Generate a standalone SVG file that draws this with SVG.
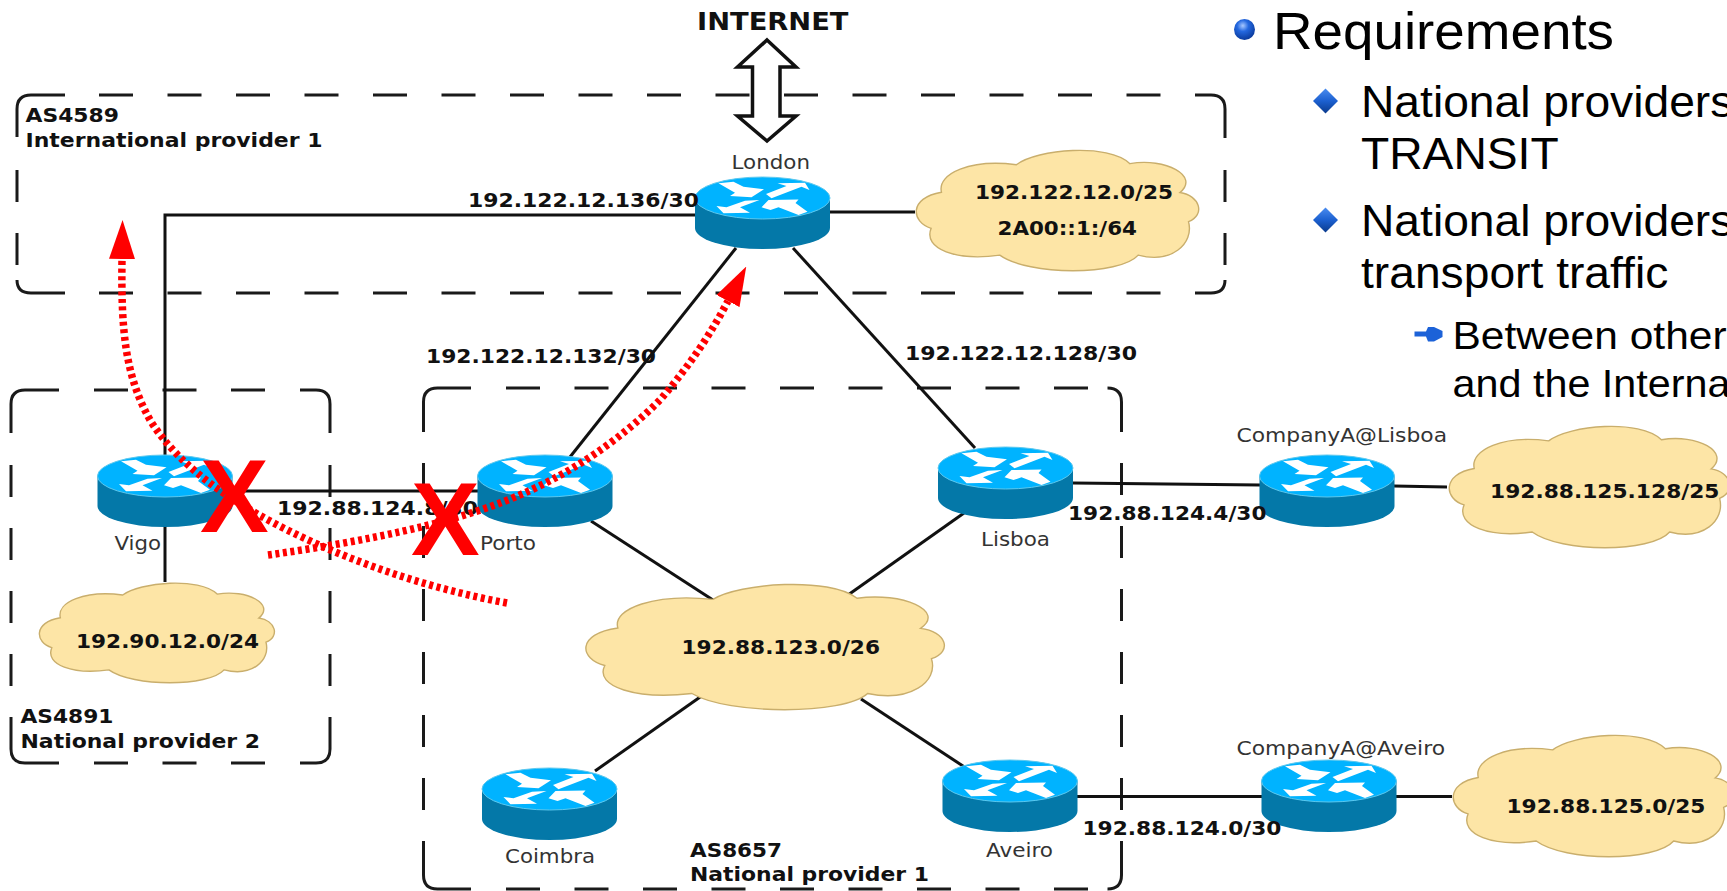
<svg xmlns="http://www.w3.org/2000/svg" xmlns:xlink="http://www.w3.org/1999/xlink" width="1727" height="891" viewBox="0 0 1727 891">
<style>
.box{fill:none;stroke:#1a1a1a;stroke-width:3}
.dh{stroke-dasharray:34 34.5}
.dv{stroke-dasharray:32 31}
.ln{fill:none;stroke:#111;stroke-width:3}
.cl{fill:#fde5a6;stroke:#c9ae6c;stroke-width:1.4;vector-effect:non-scaling-stroke}
text{font-family:"DejaVu Sans",sans-serif}
.b{font-weight:bold;font-size:19.5px;fill:#111}
.n{font-size:19.5px;fill:#333}
.s{font-family:"Liberation Sans",Arial,sans-serif;fill:#000}
.x{font-family:"Liberation Sans",Arial,sans-serif;font-weight:bold;font-size:103px;fill:#f00}
.red{fill:none;stroke:#f00;stroke-width:7.5;stroke-dasharray:4 3.6;marker-end:url(#ah)}
</style>
<defs>
<marker id="ah" markerUnits="userSpaceOnUse" viewBox="0 0 39 26" refX="0" refY="13" markerWidth="39" markerHeight="26" orient="auto"><path d="M0,0L39,13L0,26Z" fill="#f00"/></marker>
<radialGradient id="ball" cx=".42" cy=".32" r=".68"><stop offset="0" stop-color="#a8c8ff"/><stop offset=".4" stop-color="#2468e0"/><stop offset="1" stop-color="#0a3a9c"/></radialGradient>
<linearGradient id="dia" x1="0" y1="0" x2="0" y2="1"><stop offset="0" stop-color="#4a8cf0"/><stop offset=".5" stop-color="#1c60d0"/><stop offset="1" stop-color="#0a3a8c"/></linearGradient>
<path id="cloud" class="cl" d="M9.6,35.400C8,20 20,8 35.800,12.900C43,0 68,-5 75.500,12C88,7 100,22 93,35.700C100,38 102,54 96,59.600C98,78 90,94 78.400,87C72,104 40,104 30,87C15,92 3,82 6,65C-1,60 -2,40 9.600,35.400Z"/>
<g id="router">
<path d="M-67.500,21V51A67.500,21 0 0 0 67.500,51V21Z" fill="#0478a8"/>
<ellipse cx="0" cy="21" rx="67.500" ry="21" fill="#00b3ff" stroke="#5cc8ee" stroke-width="1"/>
<path fill="#fff" d="M-44,6.300L-29,4.700L-19,9.700L1.500,12.300L-11,20.300L-32.500,19L-27.500,15.700ZM3.500,17L24,9L15,6.300L42.500,5.700L47,13L39,9.700L9,21.300ZM-3,23L-22.500,30.300L-12.500,35.700L-39,36.300L-46,29L-36,30.300L-17.500,23.700ZM-1,30.300L6,23L36,22.500L33,26L45,34.700L36,38L16,30.300L8,33Z"/>
</g>
</defs>
<rect width="1727" height="891" fill="#fff"/>

<g id="as4589">
<path class="box" d="M17,137V109Q17,95 31,95H65M1195,95H1211Q1225,95 1225,109V138M1225,280Q1225,293 1211,293H1195M17,280Q17,293 31,293H65"/>
<path class="box dh" d="M99,95H1161M99,293H1161"/>
<path class="box dv" d="M17,170V265M1225,170V265"/>
<text class="b" x="25.500" y="121.500" textLength="93.500" lengthAdjust="spacingAndGlyphs">AS4589</text>
<text class="b" x="25.500" y="146.500" textLength="297" lengthAdjust="spacingAndGlyphs">International provider 1</text>
</g>
<g id="as4891">
<path class="box" d="M11,433V404Q11,390 25,390H59M300,390H316Q330,390 330,404V433M11,717V749Q11,763 25,763H59M330,717V749Q330,763 316,763H300"/>
<path class="box dh" d="M94,390H265M94,763H265"/>
<path class="box dv" d="M11,465V686M330,465V686"/>
<text class="b" x="20.500" y="723" textLength="93" lengthAdjust="spacingAndGlyphs">AS4891</text>
<text class="b" x="20.500" y="748" textLength="239.500" lengthAdjust="spacingAndGlyphs">National provider 2</text>
</g>
<g id="as8657">
<path class="box" d="M423.500,432V402Q423.500,388 437.500,388H471M1107.500,388Q1121.500,388 1121.500,402V432M423.500,841V875Q423.500,889 437.500,889H471M1121.500,841V875Q1121.500,889 1107.500,889"/>
<path class="box dh" d="M506,388H1088M506,889H1088"/>
<path class="box dv" d="M423.500,463V810M1121.500,463V810"/>
<text class="b" x="690" y="857" textLength="92" lengthAdjust="spacingAndGlyphs">AS8657</text>
<text class="b" x="690" y="881" textLength="239" lengthAdjust="spacingAndGlyphs">National provider 1</text>
</g>

<g id="connectors">
<path class="ln" d="M165,455V215H695"/>
<path class="ln" d="M232,491H478"/>
<path class="ln" d="M165,527V582"/>
<path class="ln" d="M830,212H915"/>
<path class="ln" d="M570,457L736,248"/>
<path class="ln" d="M793,248L975,448"/>
<path class="ln" d="M591,521L713,600"/>
<path class="ln" d="M964,513L848,595"/>
<path class="ln" d="M595,771L703,695"/>
<path class="ln" d="M966,768L861,699"/>
<path class="ln" d="M1073,483L1260,485"/>
<path class="ln" d="M1394,486L1447,487"/>
<path class="ln" d="M1077,796.500H1262"/>
<path class="ln" d="M1395,796.500H1452"/>
</g>

<g id="internet">
<path d="M767,40L796,67H780V116H796L767,141L737.500,116H752.500V67H737.500Z" fill="#fff" stroke="#111" stroke-width="3.500"/>
<text class="b" x="697" y="30" style="font-size:24.500px" textLength="151.500" lengthAdjust="spacingAndGlyphs">INTERNET</text>
</g>

<g id="cloud-london"><use href="#cloud" transform="translate(914,149) scale(2.86,1.22)"/>
<text class="b" x="975" y="199" textLength="198" lengthAdjust="spacingAndGlyphs">192.122.12.0/25</text>
<text class="b" x="997.500" y="235" textLength="139.500" lengthAdjust="spacingAndGlyphs">2A00::1:/64</text></g>
<g id="cloud-vigo"><use href="#cloud" transform="translate(37.500,582) scale(2.38,1.01)"/>
<text class="b" x="76" y="647.500" textLength="183" lengthAdjust="spacingAndGlyphs">192.90.12.0/24</text></g>
<g id="cloud-core"><use href="#cloud" transform="translate(583,583) scale(3.63,1.27)"/>
<text class="b" x="681.500" y="654" textLength="198.500" lengthAdjust="spacingAndGlyphs">192.88.123.0/26</text></g>
<g id="cloud-lisboa"><use href="#cloud" transform="translate(1447,425) scale(2.84,1.23)"/>
<text class="b" x="1490" y="498" textLength="229.500" lengthAdjust="spacingAndGlyphs">192.88.125.128/25</text></g>
<g id="cloud-aveiro"><use href="#cloud" transform="translate(1451,734) scale(2.84,1.23)"/>
<text class="b" x="1506.500" y="813" textLength="199" lengthAdjust="spacingAndGlyphs">192.88.125.0/25</text></g>

<g id="london"><use href="#router" x="762.500" y="177"/><text class="n" x="731.500" y="169" textLength="78.500" lengthAdjust="spacingAndGlyphs">London</text></g>
<g id="vigo"><use href="#router" x="165" y="455"/><text class="n" x="114.500" y="550" textLength="46.500" lengthAdjust="spacingAndGlyphs">Vigo</text></g>
<g id="porto"><use href="#router" x="545" y="455"/><text class="n" x="480" y="550" textLength="56" lengthAdjust="spacingAndGlyphs">Porto</text></g>
<g id="lisboa"><use href="#router" x="1005.500" y="447"/><text class="n" x="981" y="545.500" textLength="69" lengthAdjust="spacingAndGlyphs">Lisboa</text></g>
<g id="company-lisboa"><use href="#router" x="1327" y="455"/><text class="n" x="1236.500" y="441.500" textLength="210.500" lengthAdjust="spacingAndGlyphs">CompanyA@Lisboa</text></g>
<g id="coimbra"><use href="#router" x="549.500" y="768"/><text class="n" x="505" y="863" textLength="90" lengthAdjust="spacingAndGlyphs">Coimbra</text></g>
<g id="aveiro"><use href="#router" x="1010" y="760"/><text class="n" x="986" y="857" textLength="67" lengthAdjust="spacingAndGlyphs">Aveiro</text></g>
<g id="company-aveiro"><use href="#router" x="1329" y="760"/><text class="n" x="1236.500" y="755" textLength="208.500" lengthAdjust="spacingAndGlyphs">CompanyA@Aveiro</text></g>

<g id="link-labels">
<text class="b" x="468" y="206.500" textLength="231" lengthAdjust="spacingAndGlyphs">192.122.12.136/30</text>
<text class="b" x="426" y="362.500" textLength="230" lengthAdjust="spacingAndGlyphs">192.122.12.132/30</text>
<text class="b" x="905" y="360" textLength="232" lengthAdjust="spacingAndGlyphs">192.122.12.128/30</text>
<text class="b" x="277" y="515" textLength="201" lengthAdjust="spacingAndGlyphs">192.88.124.8/30</text>
<text class="b" x="1068" y="520" textLength="198.500" lengthAdjust="spacingAndGlyphs">192.88.124.4/30</text>
<text class="b" x="1082.500" y="835" textLength="199" lengthAdjust="spacingAndGlyphs">192.88.124.0/30</text>
</g>

<g id="failures">
<path class="red" d="M507,603C420,587 330,555 259,515C215,490 175,460 150,420C125,375 121,330 122,259"/>
<path class="red" d="M268,555C340,545 420,530 474,512C560,485 620,440 660,400C690,365 710,335 728,301"/>
<text class="x" x="200" y="532">X</text>
<text class="x" x="411" y="555">X</text>
</g>

<g id="requirements">
<circle cx="1244.500" cy="29.500" r="10.500" fill="url(#ball)"/>
<text class="s" x="1273" y="49" font-size="52" textLength="341" lengthAdjust="spacingAndGlyphs">Requirements</text>
<path d="M1325.500,88.500L1338,101L1325.500,113.500L1313,101Z" fill="url(#dia)"/>
<text class="s" font-size="44" transform="translate(1361,117) scale(1.05,1)">National providers</text>
<text class="s" font-size="44" transform="translate(1361,169) scale(1.05,1)">TRANSIT</text>
<path d="M1325.500,207.500L1338,220L1325.500,232.500L1313,220Z" fill="url(#dia)"/>
<text class="s" font-size="44" transform="translate(1361,236) scale(1.05,1)">National providers</text>
<text class="s" font-size="44" transform="translate(1361,288) scale(1.05,1)">transport traffic</text>
<path d="M1414.500,331.500H1426L1428,327H1434L1442.500,331V337L1434,341.500H1428L1426,336.500H1414.500Z" fill="#1c62d8"/>
<text class="s" font-size="39" transform="translate(1452.500,349) scale(1.09,1)">Between other</text>
<text class="s" font-size="39" transform="translate(1452.500,396.500) scale(1.06,1)">and the Interna</text>
</g>
</svg>
